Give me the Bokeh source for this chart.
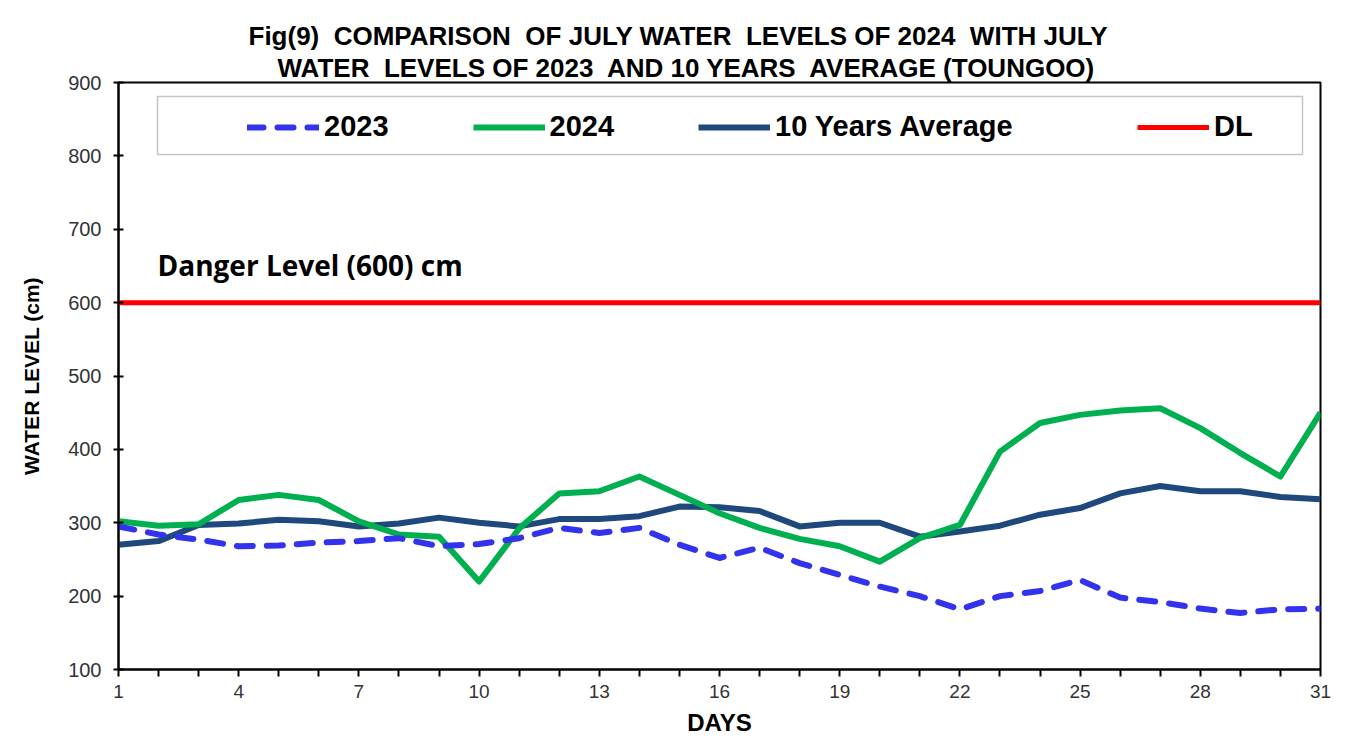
from bokeh.plotting import figure
from bokeh.models import (Range1d, FixedTicker, Legend, LegendItem, BoxAnnotation,
                          Label, Title)
from bokeh.embed import file_html
from bokeh.resources import INLINE

# ---------------- data ----------------
days = list(range(1, 32))
level_2023 = [295, 284, 277, 268, 269, 273, 275, 279, 268, 271, 279, 293, 286, 293, 270, 252,
              266, 245, 229, 213, 200, 182, 200, 207, 222, 198, 192, 183, 177, 182, 183]
level_2024 = [302, 296, 298, 331, 338, 331, 302, 284, 281, 220, 292, 340, 343, 363, 338, 313,
              293, 278, 268, 247, 279, 297, 397, 436, 447, 453, 456, 429, 395, 363, 450]
level_avg10 = [270, 275, 297, 299, 304, 302, 295, 299, 307, 300, 295, 305, 305, 309, 322, 321,
               316, 295, 300, 300, 281, 288, 296, 311, 320, 340, 350, 343, 343, 335, 332]
danger_level = 600
x_tick_labels = ["1", "4", "7", "10", "13", "16", "19", "22", "25", "28", "31"]
y_ticks = [100, 200, 300, 400, 500, 600, 700, 800, 900]
series_names = ["2023", "2024", "10 Years Average", "DL"]
NB = "\u00a0 "  # keeps the double spaces of the original title visible
title_lines = ["Fig(9)" + NB + "COMPARISON" + NB + "OF JULY WATER" + NB + "LEVELS OF 2024" + NB + "WITH JULY",
               "WATER" + NB + "LEVELS OF 2023" + NB + "AND 10 YEARS" + NB + "AVERAGE (TOUNGOO)"]

# ---------------- figure ----------------
p = figure(width=1339, height=738, output_backend="svg", toolbar_location=None,
           x_range=Range1d(1, 31), y_range=Range1d(100, 900),
           min_border_left=118, min_border_right=19, min_border_top=82, min_border_bottom=68)
p.title = None
p.background_fill_color = "white"
p.border_fill_color = "white"
p.outline_line_color = "black"
p.outline_line_width = 2
p.xgrid.visible = False
p.ygrid.visible = False

TF = "Liberation Sans"
t2 = Title(text=title_lines[1], align="left", offset=159, text_font=TF, text_font_size="26px",
           text_font_style="bold", text_color="black", standoff=0)
t1 = Title(text=title_lines[0], align="left", offset=130, text_font=TF, text_font_size="26px",
           text_font_style="bold", text_color="black", standoff=0)
p.add_layout(t2, "above")
p.add_layout(t1, "above")

# axes
xa = p.xaxis[0]
xa.ticker = FixedTicker(ticks=days)
xa.major_label_overrides = {d: (str(d) if str(d) in x_tick_labels else "") for d in days}
xa.minor_tick_line_color = None
xa.major_tick_in = 0
xa.major_tick_out = 7
xa.major_tick_line_width = 2
xa.axis_line_width = 2
xa.axis_line_color = "black"
xa.major_tick_line_color = "black"
xa.major_label_text_font = TF
xa.major_label_text_font_size = "19px"
xa.major_label_text_color = "#333333"
xa.major_label_standoff = 8
xa.axis_label = "DAYS"
xa.axis_label_text_font = TF
xa.axis_label_text_font_size = "24px"
xa.axis_label_text_font_style = "bold"
xa.axis_label_text_color = "black"
xa.axis_label_standoff = 8

ya = p.yaxis[0]
ya.ticker = FixedTicker(ticks=y_ticks)
ya.minor_tick_line_color = None
ya.major_tick_in = 5
ya.major_tick_out = 5
ya.major_tick_line_width = 2
ya.axis_line_width = 2
ya.axis_line_color = "black"
ya.major_tick_line_color = "black"
ya.major_label_text_font = TF
ya.major_label_text_font_size = "20px"
ya.major_label_text_color = "#333333"
ya.major_label_standoff = 12
ya.axis_label = "WATER LEVEL (cm)"
ya.axis_label_text_font = TF
ya.axis_label_text_font_size = "21px"
ya.axis_label_text_font_style = "bold"
ya.axis_label_text_color = "black"
ya.axis_label_standoff = 22

# series
r_dl = p.line(days, [danger_level] * len(days), line_color="#FF0000", line_width=5)
r_avg = p.line(days, level_avg10, line_color="#1F497D", line_width=6, line_join="round")
r_24 = p.line(days, level_2024, line_color="#00B050", line_width=6, line_join="round")
r_23 = p.line(days, level_2023, line_color="#3333EE", line_width=6, line_dash="16 14",
              line_cap="round", line_join="round")

# legend box
box = BoxAnnotation(left=39, right=1184, bottom=515, top=573,
                    left_units="screen", right_units="screen",
                    bottom_units="screen", top_units="screen",
                    fill_color="white", fill_alpha=1.0,
                    line_color="#404040", line_width=1.5, level="overlay")
p.add_layout(box)

LF = "29px"
leg_a = Legend(items=[LegendItem(label=series_names[0], renderers=[r_23]),
                      LegendItem(label=series_names[1], renderers=[r_24]),
                      LegendItem(label=series_names[2], renderers=[r_avg])],
               orientation="horizontal", location=(129, 526),
               glyph_width=72, glyph_height=24, label_standoff=5, label_width=64, spacing=84,
               padding=0, margin=0, border_line_color=None, background_fill_alpha=0,
               label_text_font=TF, label_text_font_size=LF, label_text_font_style="bold",
               label_text_color="black")
leg_b = Legend(items=[LegendItem(label=series_names[3], renderers=[r_dl])],
               orientation="horizontal", location=(1019, 526),
               glyph_width=72, glyph_height=24, label_standoff=5,
               padding=0, margin=0, border_line_color=None, background_fill_alpha=0,
               label_text_font=TF, label_text_font_size=LF, label_text_font_style="bold",
               label_text_color="black")
p.add_layout(leg_a, "center")
p.add_layout(leg_b, "center")

# danger level annotation
p.add_layout(Label(x=39, y=405, x_units="screen", y_units="screen",
                   text="Danger Level (600) cm", text_font="Open Sans", text_font_size="28px",
                   text_font_style="bold", text_color="black", text_baseline="alphabetic"))

open("out.html", "w").write(file_html(p, INLINE))
